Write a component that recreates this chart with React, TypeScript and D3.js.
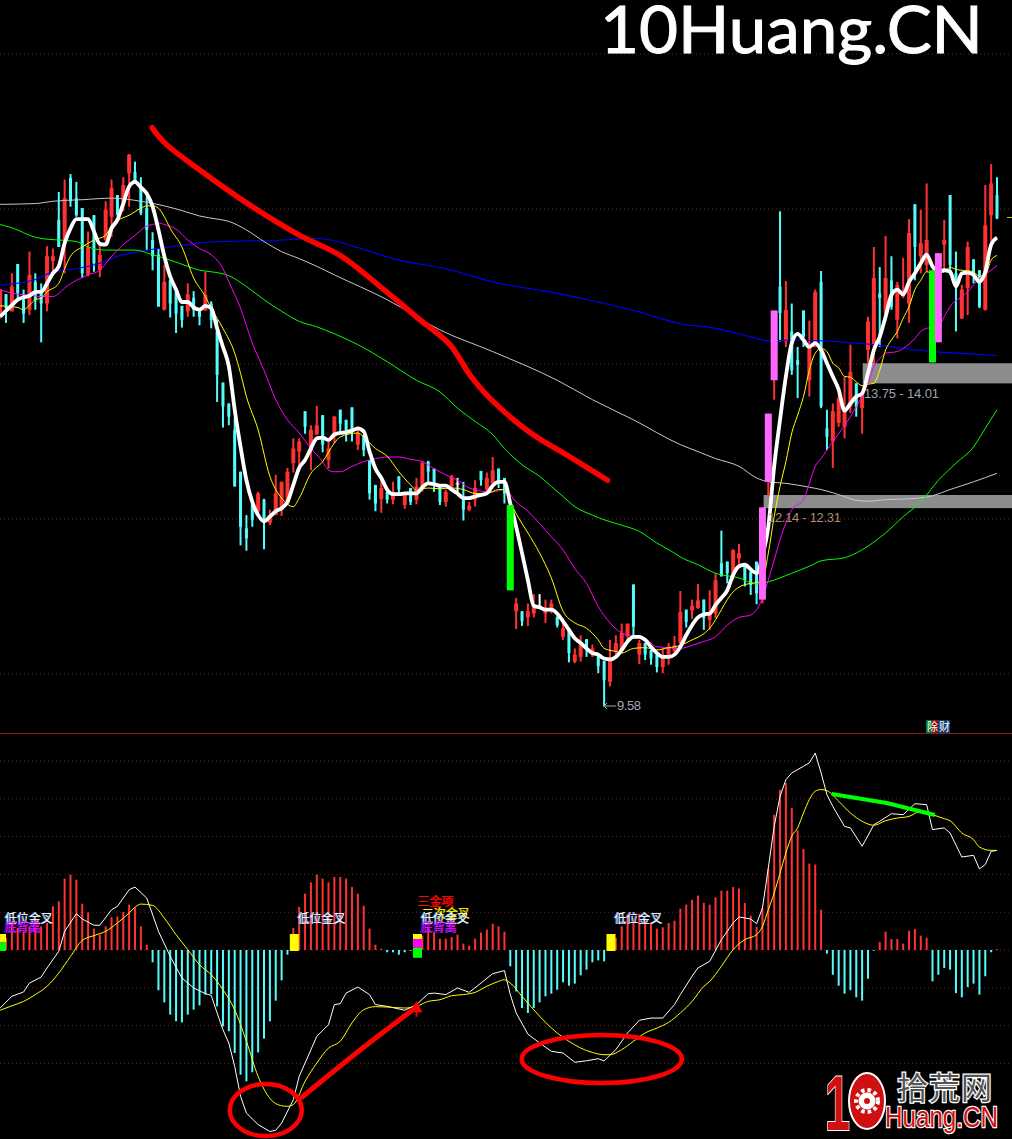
import React from "react";
import * as d3 from "d3";

const W = 1012, H = 1139;

// Candles from index -1: [open, high, low, close]
const candleRows: number[][] = [
[14.61,14.96,14.59,14.96],[14.90,14.90,14.53,14.72],[14.68,15.17,14.68,15.00],[15.29,15.29,14.85,14.91],[14.83,14.96,14.53,14.65],
[14.70,15.45,14.63,15.15],[15.06,15.17,14.70,14.83],[14.91,15.04,14.28,14.78],[14.78,15.52,14.68,15.39],[15.33,15.49,15.19,15.39],
[15.86,16.22,15.51,15.51],[15.60,16.38,15.17,16.14],[16.40,16.45,16.03,16.10],[16.14,16.35,15.90,15.92],[16.01,16.01,15.11,15.17],
[15.15,15.71,15.13,15.51],[15.92,15.92,15.19,15.30],[15.21,15.56,15.12,15.41],[15.60,16.10,15.56,15.99],[15.90,16.38,15.64,16.27],
[16.18,16.18,15.92,15.92],[16.07,16.41,15.97,16.31],[16.46,16.71,16.03,16.70],[16.48,16.61,16.35,16.35],[16.29,16.41,15.92,15.95],
[16.01,16.16,15.47,15.73],[15.60,15.70,15.21,15.39],[15.41,15.49,14.74,14.74],[14.70,15.28,14.69,15.06],[15.08,15.08,14.60,14.78],
[14.93,14.93,14.40,14.65],[14.75,14.75,14.47,14.57],[14.68,15.04,14.61,14.90],[14.85,14.94,14.61,14.70],[14.68,14.70,14.50,14.61],
[14.69,15.19,14.69,14.89],[14.78,14.81,14.46,14.57],[14.42,14.57,13.51,13.86],[13.76,13.76,13.18,13.45],[13.49,13.49,13.21,13.32],
[13.15,13.30,12.42,12.42],[12.61,12.61,11.66,11.90],[11.88,12.05,11.59,11.75],[12.20,12.20,11.90,11.99],[12.10,12.35,12.03,12.33],
[12.25,12.26,11.61,11.97],[11.95,12.12,11.92,12.05],[12.05,12.57,12.05,12.33],[12.12,12.48,12.04,12.48],[12.20,12.66,12.20,12.61],
[12.72,13.04,12.60,12.91],[12.87,13.04,12.61,13.00],[13.39,13.39,13.10,13.19],[12.89,13.21,12.63,13.15],[13.09,13.46,13.09,13.21],
[13.34,13.34,12.86,12.96],[12.76,13.00,12.65,12.91],[13.06,13.33,12.98,13.32],
[13.41,13.41,13.11,13.23],[13.28,13.28,13.00,13.15],[13.44,13.44,13.00,13.15],[12.96,13.15,12.89,13.11],[13.08,13.08,12.81,12.89],
[12.76,12.76,12.25,12.33],[12.44,12.44,12.10,12.20],[12.26,12.53,12.08,12.40],[12.35,12.35,12.20,12.25],[12.25,12.48,12.19,12.35],
[12.55,12.55,12.33,12.38],[12.18,12.35,12.13,12.31],[12.40,12.40,12.18,12.22],[12.25,12.53,12.19,12.42],[12.42,12.74,12.35,12.72],
[12.74,12.75,12.46,12.61],[12.65,12.65,12.35,12.48],[12.42,12.42,12.18,12.22],[12.22,12.38,12.16,12.35],[12.42,12.57,12.40,12.55],
[12.46,12.53,12.35,12.46],[12.27,12.48,11.98,12.12],[12.12,12.22,12.10,12.17],[12.25,12.50,12.16,12.40],[12.62,12.62,12.43,12.50],
[12.38,12.60,12.35,12.53],[12.46,12.80,12.46,12.63],[12.65,12.65,12.40,12.48],[12.53,12.53,12.20,12.33],[12.18,12.18,11.08,11.08],
[10.81,10.98,10.58,10.91],[10.81,10.81,10.62,10.68],[10.73,10.91,10.62,10.81],[10.78,11.03,10.73,10.89],[10.88,11.03,10.87,10.88],
[10.78,10.96,10.66,10.85],[10.85,10.96,10.78,10.91],[10.74,10.74,10.60,10.63],[10.48,10.72,10.44,10.59],[10.59,10.59,10.15,10.27],
[10.16,10.33,10.14,10.25],[10.22,10.50,10.16,10.38],[10.45,10.45,10.22,10.31],[10.25,10.38,10.22,10.33],[10.25,10.25,10.01,10.10],
[10.17,10.17,9.58,9.92],[9.90,10.44,9.84,10.20],[10.29,10.50,10.22,10.40],[10.31,10.65,10.31,10.53],[10.49,10.65,10.40,10.65],
[11.15,11.16,10.48,10.61],[10.25,10.44,10.13,10.40],[10.40,10.40,10.18,10.25],[10.31,10.31,10.12,10.20],[10.25,10.25,10.02,10.09],
[10.09,10.33,10.01,10.20],[10.20,10.40,10.12,10.35],[10.29,10.49,10.25,10.37],[10.40,11.07,10.31,10.80],[10.83,10.83,10.60,10.67],
[10.82,10.96,10.71,10.88],[10.85,11.16,10.84,10.95],[10.96,10.96,10.57,10.72],[10.70,11.08,10.57,10.80],[10.78,11.30,10.72,11.21],
[11.43,11.85,11.26,11.26],[11.45,11.45,11.17,11.30],[11.26,11.61,11.21,11.60],[11.49,11.68,11.39,11.56],[11.43,11.43,11.13,11.21],
[11.32,11.32,11.02,11.15],[11.45,11.45,10.90,11.04],[10.96,12.15,10.91,12.15],[12.48,13.36,12.29,13.36],[13.79,14.69,13.54,14.69],
[15.00,15.97,14.29,14.66],[14.29,15.07,14.22,14.70],[14.42,14.78,13.86,13.92],[14.05,14.22,13.56,13.99],[14.69,14.69,14.22,14.35],
[13.79,14.56,13.58,14.22],[14.22,14.96,14.22,14.93],[15.06,15.20,13.43,13.45],[13.17,13.41,12.89,13.06],[13.00,13.49,12.66,13.39],
[13.24,13.64,13.19,13.56],[13.19,13.84,13.04,13.41],[13.45,14.25,13.37,13.90],[13.75,13.75,13.32,13.45],[13.43,13.62,13.10,13.60],
[14.18,14.61,14.01,14.55],[14.25,15.51,13.75,15.11],[14.91,15.25,14.22,14.85],[14.66,15.65,14.55,15.11],[15.08,15.39,14.70,14.74],
[14.57,15.06,14.33,15.02],[14.87,15.37,14.85,14.93],[14.78,15.87,14.53,15.69],[16.06,16.06,15.08,15.51],[15.39,15.99,15.17,15.56],
[15.28,16.33,15.19,15.60],[15.21,15.21,14.02,14.02],[15.43,15.43,14.28,14.28],[15.54,15.86,15.21,15.60],[16.18,16.18,15.15,15.28],
[15.17,15.45,14.42,15.00],[14.59,15.02,14.58,14.96],[14.98,15.58,14.63,15.51],[15.35,15.35,15.04,15.13],[15.21,15.21,14.72,14.74],
[14.70,16.31,14.69,15.79],[15.92,16.58,15.51,16.33],[16.18,16.41,15.87,15.88],
];
const firstCandleIndex = -1;
const magentaBars = [129, 130, 131, 159];
const greenBars = [86, 158];
const whiteBars = [77, 91];

// Moving averages: [bar index, price]
const ma5: number[][] = [[-1,14.61],[1,14.76],[2,14.83],[3,14.86],[4,14.88],[5,14.93],[6,14.93],[7,15.04],[8,15.17],[9,15.26],[10,15.56],[11,15.75],[12,15.87],[13,15.87],[14,15.87],[15,15.71],[16,15.55],[17,15.54],[18,15.75],[19,15.86],[20,16.07],[21,16.29],[22,16.35],[23,16.28],[24,16.20],[25,16.03],[26,15.73],[27,15.39],[28,15.13],[29,14.96],[30,14.80],[31,14.80],[32,14.73],[33,14.70],[34,14.75],[35,14.72],[36,14.46],[37,14.22],[38,13.97],[39,13.41],[40,12.93],[41,12.50],[42,12.22],[43,12.05],[44,11.97],[45,12.03],[46,12.10],[47,12.14],[48,12.22],[49,12.44],[50,12.66],[51,12.76],[52,12.91],[53,13.04],[54,13.05],[55,13.02],[56,13.09],[57,13.11],[58,13.12],[59,13.14],[60,13.17],[61,13.13],[62,12.87],[63,12.65],[64,12.53],[65,12.38],[66,12.32],[67,12.32],[68,12.33],[69,12.33],[70,12.33],[71,12.41],[72,12.46],[73,12.45],[74,12.43],[75,12.43],[76,12.38],[77,12.33],[78,12.27],[79,12.27],[80,12.29],[81,12.31],[82,12.33],[83,12.43],[84,12.48],[85,12.48],[86,12.20],[87,11.90],[88,11.56],[89,11.21],[90,10.88],[91,10.86],[92,10.83],[93,10.83],[94,10.78],[95,10.68],[96,10.57],[97,10.46],[98,10.40],[99,10.33],[100,10.27],[101,10.25],[102,10.20],[103,10.19],[104,10.22],[105,10.31],[106,10.42],[107,10.48],[108,10.48],[109,10.44],[110,10.35],[111,10.27],[112,10.22],[113,10.22],[114,10.25],[115,10.35],[116,10.50],[117,10.63],[118,10.73],[119,10.77],[120,10.78],[121,10.89],[122,10.98],[123,11.08],[124,11.28],[125,11.39],[126,11.41],[127,11.35],[128,11.30],[129,11.52],[130,11.90],[131,12.68],[132,13.28],[133,13.84],[134,14.27],[135,14.39],[136,14.31],[137,14.22],[138,14.27],[139,14.18],[140,14.01],[141,13.84],[142,13.67],[143,13.40],[144,13.49],[145,13.58],[146,13.62],[147,13.88],[148,14.18],[149,14.35],[150,14.61],[151,14.89],[152,14.96],[153,14.90],[154,15.06],[155,15.17],[156,15.30],[157,15.41],[158,15.26],[159,15.19],[160,15.21],[161,15.19],[162,15.00],[163,15.17],[164,15.18],[165,15.15],[166,15.06],[167,15.19],[168,15.54],[169,15.63]];
const ma10: number[][] = [[-1,14.75],[2,14.73],[3,14.70],[4,14.76],[5,14.83],[6,14.85],[7,14.93],[9,15.04],[10,15.23],[11,15.39],[13,15.51],[15,15.60],[17,15.66],[18,15.79],[19,15.85],[21,15.92],[23,16.01],[24,16.04],[25,16.04],[26,16.01],[27,15.90],[28,15.75],[30,15.51],[32,15.11],[34,14.87],[35,14.72],[37,14.46],[39,14.14],[40,13.88],[41,13.58],[43,13.15],[45,12.55],[47,12.27],[49,12.16],[50,12.27],[52,12.59],[54,12.74],[56,12.98],[57,13.06],[60,13.11],[61,13.06],[63,12.91],[65,12.81],[67,12.61],[69,12.44],[70,12.37],[72,12.40],[74,12.39],[76,12.40],[78,12.38],[80,12.33],[82,12.33],[84,12.38],[85,12.38],[86,12.22],[87,12.07],[89,11.82],[91,11.56],[93,11.24],[95,10.81],[97,10.66],[99,10.59],[101,10.44],[102,10.33],[104,10.29],[105,10.27],[107,10.33],[109,10.34],[111,10.31],[113,10.34],[114,10.35],[115,10.37],[117,10.44],[119,10.52],[120,10.59],[121,10.70],[122,10.83],[123,10.96],[124,11.06],[125,11.12],[127,11.17],[128,11.18],[129,11.20],[130,11.56],[131,12.03],[132,12.42],[133,12.74],[134,13.11],[135,13.34],[136,13.58],[137,13.92],[138,14.14],[139,14.20],[140,14.16],[141,14.01],[142,13.95],[143,13.84],[144,13.83],[145,13.77],[146,13.72],[147,13.74],[148,13.75],[149,13.92],[150,14.18],[151,14.31],[152,14.42],[153,14.59],[154,14.74],[155,14.96],[156,15.08],[157,15.19],[158,15.17],[160,15.19],[161,15.25],[162,15.22],[163,15.21],[165,15.19],[166,15.13],[167,15.15],[168,15.34],[169,15.40]];
const ma20: number[][] = [[-1,14.96],[2,14.90],[4,14.89],[6,14.87],[8,14.87],[9,14.91],[10,14.98],[12,15.08],[14,15.15],[16,15.21],[18,15.39],[20,15.54],[22,15.66],[24,15.78],[25,15.80],[26,15.82],[27,15.80],[29,15.74],[31,15.60],[33,15.49],[35,15.41],[37,15.23],[38,15.06],[40,14.72],[42,14.27],[44,13.92],[46,13.54],[48,13.28],[50,13.11],[52,12.91],[54,12.74],[55,12.63],[56,12.61],[57,12.61],[59,12.68],[61,12.74],[63,12.78],[65,12.80],[67,12.80],[69,12.77],[71,12.74],[73,12.65],[75,12.57],[77,12.50],[79,12.40],[81,12.36],[83,12.35],[85,12.38],[87,12.22],[89,12.10],[91,11.94],[93,11.77],[95,11.60],[97,11.36],[99,11.17],[101,10.87],[103,10.66],[105,10.53],[107,10.49],[109,10.46],[111,10.35],[113,10.34],[114,10.33],[115,10.33],[117,10.37],[119,10.42],[121,10.48],[123,10.63],[125,10.73],[127,10.76],[128,10.83],[129,10.98],[130,11.21],[131,11.47],[132,11.73],[133,11.95],[134,12.12],[136,12.25],[137,12.46],[138,12.68],[139,12.78],[140,12.89],[141,13.00],[142,13.10],[143,13.21],[144,13.32],[145,13.45],[146,13.58],[147,13.75],[148,13.97],[149,14.07],[150,14.14],[152,14.16],[153,14.20],[155,14.33],[156,14.42],[157,14.46],[159,14.48],[160,14.61],[161,14.74],[163,14.87],[164,14.93],[166,15.11],[168,15.21],[169,15.27]];
const ma60: number[][] = [[-1,15.80],[2,15.73],[4,15.66],[6,15.62],[9,15.60],[12,15.58],[14,15.51],[17,15.47],[22,15.47],[25,15.41],[28,15.34],[31,15.26],[33,15.21],[35,15.19],[38,15.14],[41,15.00],[44,14.83],[47,14.68],[50,14.55],[53,14.48],[56,14.39],[60,14.25],[65,14.03],[70,13.79],[74,13.64],[77,13.43],[80,13.26],[83,13.09],[85,12.91],[88,12.70],[91,12.55],[93,12.42],[95,12.29],[97,12.16],[100,12.05],[102,11.99],[105,11.92],[108,11.84],[111,11.69],[114,11.56],[115,11.51],[118,11.41],[121,11.30],[125,11.24],[128,11.16],[130,11.19],[134,11.30],[137,11.39],[139,11.46],[143,11.50],[145,11.56],[147,11.65],[150,11.82],[153,12.03],[156,12.22],[159,12.50],[162,12.72],[165,12.93],[167,13.17],[169,13.41]];
const ma120: number[][] = [[-1,16.06],[5,16.07],[8,16.10],[13,16.12],[18,16.14],[23,16.10],[27,16.04],[30,15.98],[33,15.91],[36,15.87],[38,15.84],[41,15.73],[44,15.58],[47,15.45],[50,15.36],[53,15.26],[56,15.15],[65,14.83],[74,14.44],[83,14.16],[94,13.79],[100,13.54],[107,13.28],[115,12.96],[118,12.87],[121,12.78],[125,12.68],[128,12.53],[130,12.48],[133,12.46],[137,12.41],[139,12.38],[143,12.29],[145,12.24],[147,12.23],[150,12.25],[154,12.26],[158,12.30],[161,12.38],[165,12.48],[169,12.59]];
const ma250: number[][] = [[-1,15.02],[5,15.09],[8,15.19],[12,15.23],[16,15.30],[19,15.39],[22,15.44],[25,15.48],[28,15.51],[31,15.54],[34,15.57],[37,15.58],[42,15.59],[45,15.59],[49,15.61],[53,15.62],[56,15.59],[60,15.50],[67,15.34],[75,15.23],[84,15.04],[92,14.94],[101,14.80],[108,14.67],[115,14.52],[121,14.46],[127,14.35],[130,14.30],[135,14.31],[139,14.30],[143,14.28],[148,14.25],[154,14.19],[158,14.16],[165,14.13],[169,14.11]];

// MACD histogram, bar index 0..169
const macdHist = [
.064,.143,.116,.099,.125,.116,.125,.143,.231,.258,.378,.399,.372,.245,.199,.113,.081,.125,.173,.178,.201,.240,.222,.125,.028,
-.065,-.213,-.277,-.342,-.377,-.383,-.342,-.316,-.293,-.236,-.233,-.298,-.404,-.430,-.545,-.660,-.695,-.647,-.542,-.469,-.377,-.268,-.161,-.025,
.116,.228,.298,.358,.399,.378,.358,.386,.386,.378,.333,.298,.235,.113,.028,.007,
-.012,-.012,-.025,-.012,-.002,
.076,.076,.116,.093,.060,.060,.069,.081,.034,.023,.060,.093,.108,.139,.125,.097,
-.086,-.219,-.307,-.333,-.307,-.277,-.245,-.231,-.210,-.171,-.189,-.178,-.134,-.104,-.065,-.055,-.060,
.040,.064,.125,.187,.152,.192,.152,.143,.113,.120,.143,.155,.219,.240,.266,.288,.249,.240,.279,.314,.314,.333,.325,.249,.182,.122,.222,.430,.716,.848,.884,.751,.633,.534,.457,.452,.213,
-.019,-.131,-.189,-.231,-.213,-.250,-.268,-.152,-.004,
.042,.097,.058,.058,.034,.102,.111,.076,.065,
-.166,-.131,-.095,-.104,-.228,-.250,-.196,-.178,-.236,-.139,-.012,.005,
];
const macdDif: number[][] = [[-1,-.307],[1,-.245],[3,-.222],[4,-.175],[6,-.143],[7,-.095],[9,-.007],[10,.099],[12,.192],[13,.164],[15,.131],[16,.131],[18,.213],[19,.231],[21,.319],[22,.333],[24,.275],[26,.099],[28,-.034],[30,-.148],[32,-.201],[34,-.231],[35,-.240],[36,-.333],[37,-.422],[38,-.492],[39,-.616],[40,-.774],[41,-.863],[43,-.924],[45,-.960],[46,-.954],[47,-.916],[49,-.792],[50,-.669],[51,-.598],[53,-.457],[55,-.395],[56,-.289],[57,-.284],[58,-.228],[60,-.196],[62,-.236],[63,-.289],[65,-.298],[68,-.319],[70,-.289],[72,-.231],[73,-.228],[75,-.236],[77,-.201],[79,-.224],[81,-.175],[83,-.125],[85,-.109],[86,-.236],[87,-.333],[89,-.445],[91,-.492],[93,-.536],[95,-.545],[97,-.594],[99,-.586],[101,-.575],[102,-.587],[104,-.527],[106,-.439],[108,-.372],[110,-.360],[112,-.360],[114,-.289],[115,-.236],[117,-.139],[118,-.095],[120,-.060],[122,.055],[124,.143],[125,.175],[127,.164],[128,.139],[129,.222],[130,.434],[131,.654],[132,.813],[133,.901],[134,.937],[136,.972],[137,.990],[138,1.042],[139,.937],[140,.822],[141,.760],[143,.654],[144,.646],[146,.549],[148,.663],[149,.681],[151,.721],[153,.716],[155,.774],[157,.769],[158,.637],[160,.646],[161,.619],[163,.492],[165,.501],[166,.429],[167,.452],[168,.522],[169,.527]];
const macdDea: number[][] = [[-1,-.319],[1,-.295],[3,-.272],[5,-.236],[7,-.192],[9,-.122],[11,-.034],[13,.051],[15,.076],[17,.099],[19,.143],[21,.196],[22,.226],[23,.243],[25,.236],[27,.169],[29,.081],[31,.002],[33,-.078],[35,-.131],[37,-.210],[39,-.316],[41,-.483],[43,-.669],[45,-.785],[47,-.824],[48,-.827],[49,-.818],[51,-.695],[53,-.598],[55,-.519],[57,-.483],[59,-.386],[61,-.316],[63,-.300],[65,-.302],[68,-.307],[70,-.298],[72,-.272],[74,-.263],[76,-.242],[78,-.236],[80,-.224],[82,-.192],[84,-.166],[85,-.157],[86,-.175],[88,-.245],[90,-.316],[92,-.383],[94,-.439],[96,-.483],[98,-.519],[100,-.542],[102,-.554],[103,-.554],[105,-.527],[107,-.483],[109,-.439],[111,-.413],[113,-.383],[115,-.333],[117,-.272],[119,-.192],[120,-.166],[122,-.086],[124,.002],[126,.055],[128,.081],[129,.125],[130,.213],[131,.302],[132,.407],[133,.513],[134,.602],[135,.646],[136,.725],[137,.796],[138,.840],[139,.849],[140,.843],[142,.787],[144,.725],[146,.681],[148,.660],[150,.684],[152,.698],[154,.707],[156,.734],[158,.716],[160,.695],[161,.684],[163,.619],[165,.584],[166,.545],[168,.527],[169,.527]];

// Hand-drawn annotations
const trendStroke: number[][] = [[24.9,17.05],[27.1,16.85],[33.1,16.50],[41.6,16.05],[50.1,15.66],[57,15.40],[64.6,14.95],[70.6,14.57],[75.7,14.25],[79.1,13.86],[82.5,13.56],[89.3,13.12],[96.2,12.80],[102.6,12.50]];
const macdRise: number[][] = [[50.5,-.778],[60.4,-.529],[70,-.302]];
const macdFall: number[][] = [[140.8,.825],[150.2,.778],[158.4,.714]];
const circles = [{ i: 44.3, v: -.847, rx: 36, ry: 26 }, { i: 101.6, v: -.577, rx: 80, ry: 24 }];

const priceTicks = [10, 12, 14, 16, 18];
const macdTicks = [-0.6, -0.4, -0.2, 0, 0.2, 0.4, 0.6, 0.8, 1.0];
const zones = [
  { low: 12.14, high: 12.31, from: 129.2, label: "12.14 - 12.31" },
  { low: 13.75, high: 14.01, from: 146.1, label: "13.75 - 14.01" },
];
const markers = [
  { i: 0, cols: [["#ffff00", 1], ["#00ff00", 1]] },
  { i: 49, cols: [["#ffff00", 2]] },
  { i: 70, cols: [["#ffff00", 0.6], ["#ff00ff", 1], ["#00ff00", 1.2]] },
  { i: 103, cols: [["#ffff00", 2]] },
];
const signalTexts = [
  { i: 0, t: "低位金叉", c: "#ffffff", dy: 923, sh: "#5aa0ff", dx: 0 },
  { i: 0, t: "底背离", c: "#ff00ff", dy: 932, sh: "#3b30ff", dx: 0 },
  { i: 49, t: "低位金叉", c: "#ffffff", dy: 923, sh: "#5aa0ff", dx: 0 },
  { i: 70, t: "三金项", c: "#ff0000", dy: 906, sh: "#ff0000", dx: -3 },
  { i: 70, t: "二次金叉", c: "#ffff00", dy: 918, sh: "#808000", dx: 1 },
  { i: 70, t: "低位金叉", c: "#ffffff", dy: 923, sh: "#5aa0ff", dx: 0 },
  { i: 70, t: "底背离", c: "#ff00ff", dy: 932, sh: "#3b30ff", dx: 0 },
  { i: 103, t: "低位金叉", c: "#ffffff", dy: 923, sh: "#5aa0ff", dx: 0 },
];

const x = d3.scaleLinear().domain([0, 169]).range([6, 997]);
const yP = d3.scaleLinear().domain([10, 18]).range([674, 54]);
const yM = d3.scaleLinear().domain([0, 1]).range([950, 761]);

const RED = "#ff3232", CYAN = "#54fcfc", SIG_M = "#ff66ff", SIG_G = "#00ff00";

const lineP = (curve: any) => d3.line<number[]>().x((d) => x(d[0])).y((d) => yP(d[1])).curve(curve);
const lineM = (curve: any) => d3.line<number[]>().x((d) => x(d[0])).y((d) => yM(d[1])).curve(curve);

const maDefs: [number[][], string, number][] = [
  [ma250, "#0000ff", 1.1],
  [ma120, "#c8c8c8", 1],
  [ma60, "#00ff00", 1],
  [ma20, "#ff00ff", 1],
  [ma10, "#ffff00", 1],
];

function Candle({ row, i }: { row: number[]; i: number }) {
  const [o, h, l, c] = row;
  if (magentaBars.includes(i) || greenBars.includes(i)) return null;
  const up = c >= o;
  const color = whiteBars.includes(i) ? "#ffffff" : up ? RED : CYAN;
  const top = yP(Math.max(o, c));
  const bot = yP(Math.min(o, c));
  const cx = x(i);
  const bw = up ? 4 : 3;
  return (
    <g fill={color}>
      <rect x={cx - 1} y={yP(h)} width={2} height={Math.max(1, yP(l) - yP(h))} />
      <rect x={cx - bw / 2} y={top} width={bw} height={Math.max(1, bot - top)} />
    </g>
  );
}

function SignalCandle({ row, i }: { row: number[]; i: number }) {
  const [o, h, l, c] = row;
  const isM = magentaBars.includes(i);
  if (!isM && !greenBars.includes(i)) return null;
  const top = yP(Math.max(o, c));
  const bot = yP(Math.min(o, c));
  const cx = x(i);
  return (
    <g>
      <rect x={cx - 1} y={yP(h)} width={2} height={Math.max(1, yP(l) - yP(h))} fill={RED} />
      <rect x={cx - 3.5} y={top} width={7} height={bot - top} fill={isM ? SIG_M : SIG_G} />
    </g>
  );
}

export default function App() {
  const cjk = "'Noto Sans CJK SC', sans-serif";
  const gearCx = 867, gearCy = 1101;
  return (
    <svg width={W} height={H} viewBox={`0 0 ${W} ${H}`} style={{ position: "absolute", left: 0, top: 0, display: "block", background: "#000" }}>
      <style>{"html,body{margin:0;background:#000}"}</style>
      <rect width={W} height={H} fill="#000" />

      {priceTicks.map((t) => (
        <line key={t} x1={0} x2={W} y1={yP(t)} y2={yP(t)} stroke="#7a1c1c" strokeDasharray="1 3" />
      ))}
      {macdTicks.map((t) => (
        <line key={t} x1={0} x2={W} y1={yM(t)} y2={yM(t)} stroke="#7a1c1c" strokeDasharray="1 3" />
      ))}
      <line x1={0} x2={W} y1={733.5} y2={733.5} stroke="#8a1c1c" />

      {candleRows.map((r, k) => (
        <Candle key={k} row={r} i={k + firstCandleIndex} />
      ))}

      {zones.map((z) => (
        <rect key={z.label} x={x(z.from)} y={yP(z.high)} width={W - x(z.from)} height={yP(z.low) - yP(z.high)} fill="#8c8c8c" />
      ))}

      {maDefs.map(([d, c, w], k) => (
        <path key={k} d={lineP(d3.curveMonotoneX)(d) as string} fill="none" stroke={c} strokeWidth={w} />
      ))}
      <path d={lineP(d3.curveMonotoneX)(ma5) as string} fill="none" stroke="#fff" strokeWidth={3.8} strokeLinejoin="round" />

      {candleRows.map((r, k) => (
        <SignalCandle key={k} row={r} i={k + firstCandleIndex} />
      ))}

      <path d={lineP(d3.curveCatmullRom)(trendStroke) as string} fill="none" stroke="#ff0000" strokeWidth={5.5} strokeLinecap="round" />

      <text x={768} y={522} fontFamily="'Liberation Sans', sans-serif" fontSize={13} fill="#a89070" textLength={73}>
        {zones[0].label}
      </text>
      <text x={864} y={398} fontFamily="'Liberation Sans', sans-serif" fontSize={13} fill="#9aa4b0" textLength={75}>
        {zones[1].label}
      </text>
      <line x1={604} x2={616} y1={706} y2={706} stroke="#a0a8b0" />
      <path d={d3.line()([[607, 703], [604, 706], [607, 709]]) as string} fill="none" stroke="#a0a8b0" />
      <text x={617} y={710} fontFamily="'Liberation Sans', sans-serif" fontSize={13} fill="#a0a8b0" textLength={24}>9.58</text>
      <rect x={1007} y={217} width={5} height={1} fill="#c8c800" />

      {/* icon */}
      <rect x={926} y={720} width={6} height={13} fill="#007a30" />
      <rect x={932} y={720} width={6} height={13} fill="#8a1010" />
      <rect x={938} y={720} width={12} height={13} fill="#103a70" />
      <text x={927} y={731} fontFamily={cjk} fontSize={11} fill="#fff" textLength={23}>除财</text>

      {/* MACD */}
      {macdHist.map((v, i) => (
        <rect key={i} x={x(i) - 1} y={Math.min(yM(v), yM(0))} width={2} height={Math.max(0.8, Math.abs(yM(v) - yM(0)))} fill={v >= 0 ? RED : CYAN} />
      ))}
      <path d={lineM(d3.curveLinear)(macdDif) as string} fill="none" stroke="#fff" strokeWidth={1} />
      <path d={lineM(d3.curveMonotoneX)(macdDea) as string} fill="none" stroke="#ffff00" strokeWidth={1} />

      {markers.map((m) => {
        let y0 = 934;
        return (
          <g key={m.i}>
            {m.cols.map(([c, u], k) => {
              const h = ((u as number) / 2) * 17;
              const el = <rect key={k} x={m.i === 0 ? 0 : x(m.i) - 3.5} y={y0} width={m.i === 0 ? 6 : 9} height={h} fill={c as string} />;
              y0 += h;
              return el;
            })}
          </g>
        );
      })}
      {signalTexts.map((s, k) => {
        const tx = x(s.i) + (s.i === 0 ? -1 : 4.5) + s.dx;
        const n = s.t.length * 12;
        return (
          <g key={k} fontFamily={cjk} fontSize={12}>
            <text x={tx - 1} y={s.dy} fill={s.sh} textLength={n}>{s.t}</text>
            <text x={tx} y={s.dy} fill={s.c} textLength={n}>{s.t}</text>
          </g>
        );
      })}

      <path d={lineM(d3.curveCatmullRom)(macdRise) as string} fill="none" stroke="#ff0000" strokeWidth={5} strokeLinecap="round" />
      <path d={d3.line()([[x(70) - 7, yM(-.33)], [x(70), yM(-.27)], [x(70) + 6, yM(-.33)]]) as string} fill="#ff0000" />
      <rect x={x(70) - 1} y={yM(-.3)} width={2} height={10} fill="#ff0000" />
      <path d={lineM(d3.curveLinear)(macdFall) as string} fill="none" stroke="#00ff00" strokeWidth={4} />
      {circles.map((c) => (
        <ellipse key={c.i} cx={x(c.i)} cy={yM(c.v)} rx={c.rx} ry={c.ry} fill="none" stroke="#ff0000" strokeWidth={4.5} />
      ))}

      {/* Title */}
      <text x={600} y={53} fontFamily="Lato, sans-serif" fontSize={66} fill="#fff" textLength={383} lengthAdjust="spacingAndGlyphs" stroke="#fff" strokeWidth={1}>
        10Huang.CN
      </text>

      {/* Watermark */}
      <g>
        <text x={825} y={1130} fontFamily="'Liberation Sans', sans-serif" fontWeight={700} fontSize={78} fill="#d01010" stroke="#fff" strokeWidth={2} paintOrder="stroke" textLength={25} lengthAdjust="spacingAndGlyphs">1</text>
        <ellipse cx={gearCx} cy={gearCy} rx={18} ry={28} fill="#d01010" stroke="#fff" strokeWidth={2} />
        <circle cx={gearCx} cy={gearCy} r={11} fill="none" stroke="#fff" strokeWidth={4} strokeDasharray="3.5 3" />
        <circle cx={gearCx} cy={gearCy} r={8.5} fill="#fff" />
        <circle cx={gearCx} cy={gearCy} r={3} fill="#d01010" />
        <text x={897} y={1099} fontFamily={cjk} fontSize={31} fill="#555" stroke="#fff" strokeWidth={2.5} paintOrder="stroke" textLength={95}>拾荒网</text>
        <text x={885} y={1127} fontFamily="'Liberation Sans', sans-serif" fontSize={30} fill="#d01010" stroke="#fff" strokeWidth={2.5} paintOrder="stroke" textLength={113} lengthAdjust="spacingAndGlyphs">Huang.CN</text>
      </g>
    </svg>
  );
}
